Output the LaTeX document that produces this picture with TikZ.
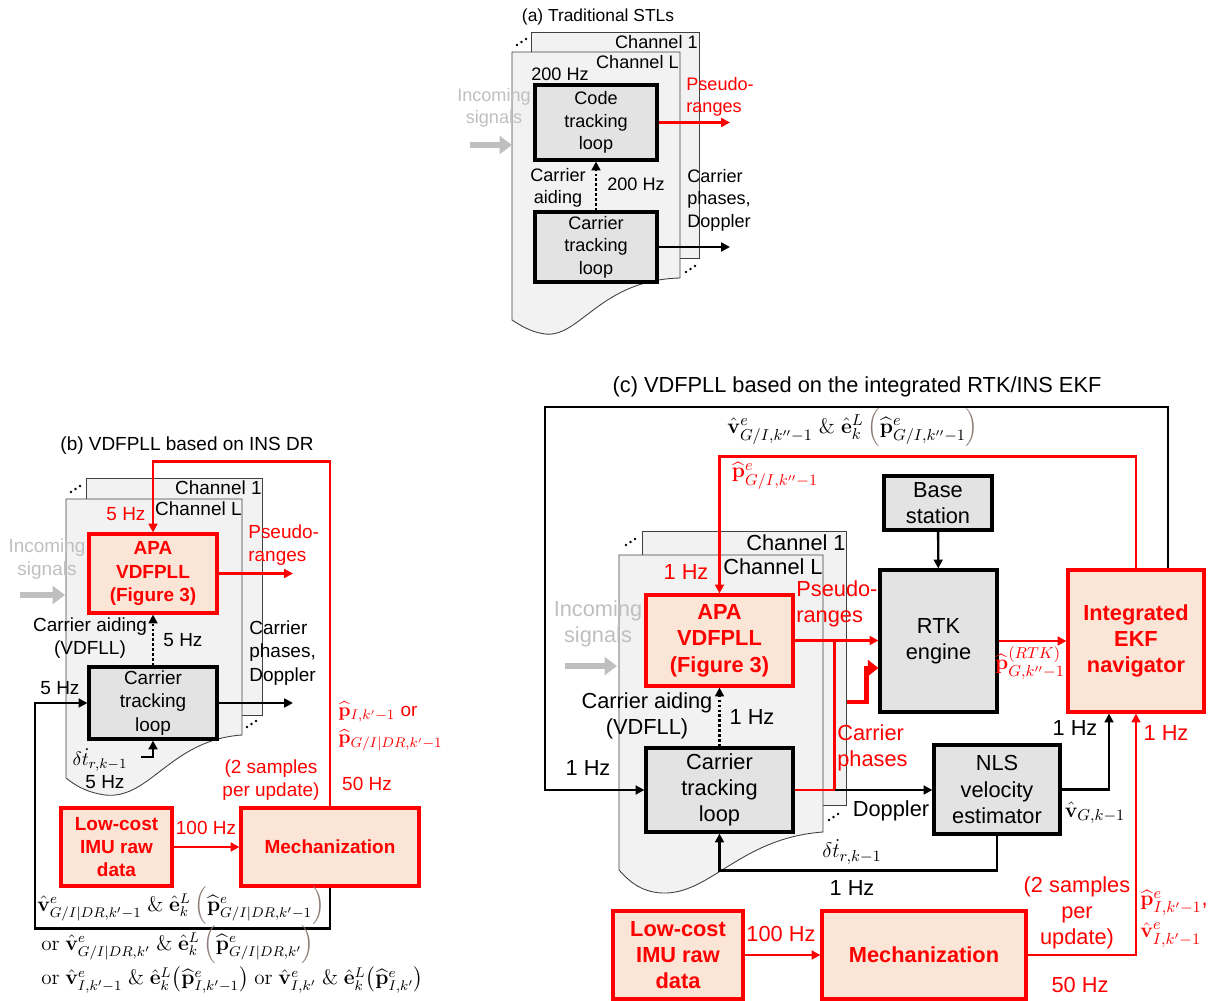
\documentclass[tikz,border=0pt]{standalone}
\usepackage[no-math]{fontspec}
\setmainfont{Liberation Sans}
\usepackage{amsmath}
\usetikzlibrary{arrows.meta,calc}

\definecolor{boxgray}{HTML}{E3E3E3}
\definecolor{pagegray}{HTML}{F2F2F2}
\definecolor{peach}{HTML}{FBE5D6}
\definecolor{sigray}{HTML}{BFBFBF}
\definecolor{pred}{HTML}{FF0000}
\definecolor{parbrown}{HTML}{8C7B75}

\newcommand\pfont{\fontsize{10.3}{12.8}\selectfont}

\tikzset{
  blk/.style={draw, line width=1.8pt, fill=boxgray, align=center, font=\pfont, inner sep=0pt},
  redblk/.style={blk, draw=pred, fill=peach, text=pred, font=\pfont\bfseries},
  sz/.style 2 args={minimum width=#1*0.02cm, minimum height=#2*0.02cm},
  txt/.style={font=\pfont, inner sep=0pt, align=center},
  redtxt/.style={txt, text=pred},
  graytxt/.style={txt, text=sigray},
  mathtxt/.style={txt, font=\fontsize{11.6}{14}\selectfont},
  conn/.style={line width=1.3pt, -{Triangle[length=5pt,width=5pt]}},
  redconn/.style={conn, draw=pred},
  redline/.style={line width=1.3pt, draw=pred},
  thickred/.style={line width=2.8pt, draw=pred, -{Triangle[length=6pt,width=9pt]}},
  aidconn/.style={conn, dash pattern=on 1.4pt off 1.4pt, line width=1.4pt},
  page/.style={fill=pagegray, draw=black!75, line width=0.5pt},
  sigarr/.style={draw=sigray, line width=3.4pt, -{Triangle[length=7pt,width=10pt]}},
}

\begin{document}
\begin{tikzpicture}[x=0.02cm,y=-0.02cm]
\useasboundingbox (0,0) rectangle (1218,1001);

% (a) traditional loops
\begin{scope}
  \def\pfont{\fontsize{10.3}{12.8}\selectfont}
  \node[txt, font=\fontsize{9.9}{12}\selectfont] (titA) at (598,17) {(a) Traditional STLs};
  \filldraw[page] (531,32) rectangle (699,258);
  \filldraw[page] (512,52) -- (680,52) -- (680,278) .. controls (600,280) and (580,338) .. (545,334)
    .. controls (530,332) and (520,325) .. (512,320) -- cycle;
  \foreach \i in {0,1,2}{
    \fill (517+4.5*\i,45-3*\i) circle [radius=0.8pt];
    \fill (686+4.5*\i,272-3*\i) circle [radius=0.8pt];
  }
  \node[txt, anchor=east] (ch1A) at (698,42) {Channel 1};
  \node[txt, anchor=east] (chLA) at (679,62) {Channel L};
  \node[txt] (hzA1) at (560,74) {200 Hz};
  \node[blk, sz={122}{75}] (codeA) at (596,122.5) {Code\\tracking\\loop};
  \node[blk, sz={122}{70}] (carA) at (596,247) {Carrier\\tracking\\loop};
  \node[graytxt] (incA) at (494,108) {Incoming\\signals};
  \coordinate (sigA0) at (470,145);
  \coordinate (sigA1) at (512,145);
  \draw[sigarr] (sigA0) -- (sigA1);
  \coordinate (prA) at (730,122.5);
  \draw[redconn] (codeA.east) -- (prA);
  \node[redtxt, anchor=west, align=left] (prlA) at (686,97) {Pseudo-\\ranges};
  \coordinate (cpA) at (730,247);
  \draw[conn] (carA.east) -- (cpA);
  \node[txt, anchor=west, align=left] (cplA) at (687,200) {Carrier\\phases,\\Doppler};
  \draw[aidconn] (carA.north) -- (codeA.south);
  \node[txt] (aidA) at (558,188) {Carrier\\aiding};
  \node[txt] (hzA2) at (636,184) {200 Hz};
\end{scope}

% (b) INS DR
\begin{scope}
  \def\pfont{\fontsize{10.8}{13.3}\selectfont}
  \node[txt] (titB) at (187,446) {(b) VDFPLL based on INS DR};
  \filldraw[page] (86,478) rectangle (262,715);
  \filldraw[page] (66,499) -- (242,499) -- (242,735) .. controls (170,740) and (150,800) .. (105,795)
    .. controls (85,792) and (75,785) .. (66,778) -- cycle;
  \foreach \i in {0,1,2}{
    \fill (71+4.5*\i,492-3*\i) circle [radius=0.8pt];
    \fill (247+4.5*\i,727-3*\i) circle [radius=0.8pt];
  }
  \node[txt, anchor=east] (ch1B) at (262,488) {Channel 1};
  \node[txt, anchor=east] (chLB) at (242,509) {Channel L};
  \node[redtxt] (hzB1) at (126,514) {5 Hz};
  \node[redblk, sz={128}{79}] (apaB) at (153,573.5) {APA\\VDFPLL\\(Figure 3)};
  \node[blk, sz={128}{72}] (carB) at (153,703) {Carrier\\tracking\\loop};
  \node[redblk, sz={111}{78}] (imuB) at (116.5,847) {Low-cost\\IMU raw\\data};
  \node[redblk, sz={178}{78}] (mechB) at (330,847) {Mechanization};
  \node[graytxt] (incB) at (47,559) {Incoming\\signals};
  \coordinate (sigB0) at (20,595);
  \coordinate (sigB1) at (65,595);
  \draw[sigarr] (sigB0) -- (sigB1);
  \coordinate (prB) at (293,573.5);
  \draw[redconn] (apaB.east) -- (prB);
  \node[redtxt, anchor=west, align=left] (prlB) at (248,545) {Pseudo-\\ranges};
  \coordinate (cpB) at (293,703);
  \draw[conn] (carB.east) -- (cpB);
  \node[txt, anchor=west, align=left] (cplB) at (249,653) {Carrier\\phases,\\Doppler};
  \draw[aidconn] (carB.north) -- (apaB.south);
  \node[txt] (hzB2) at (183,640) {5 Hz};
  \node[txt] (aidB) at (90,638) {Carrier aiding\\(VDFLL)};
  \draw[redconn] (mechB.north) -- ++(0,-345) -| (apaB.north);
  \draw[conn] (mechB.south) -- ++(0,41) -| (35,703) -- (carB.west);
  \node[txt] (hzB3) at (60,688) {5 Hz};
  \coordinate (dtB) at (141,757);
  \draw[conn] (dtB) -| (carB.south);
  \node[txt] (dtlB) at (100,760) {$\delta\dot t_{r,k-1}$};
  \node[txt] (hzB4) at (105,782) {5 Hz};
  \draw[redconn] (imuB.east) -- (mechB.west);
  \node[redtxt] (hzB5) at (206,828) {100 Hz};
  \node[redtxt] (smpB) at (271,780) {(2 samples\\per update)};
  \node[redtxt] (hzB6) at (367,784) {50 Hz};
  \node[redtxt, anchor=west] (posB1) at (338,712) {$\widehat{\mathbf p}_{I,k'-1}$ or};
  \node[redtxt, anchor=west] (posB2) at (338,740) {$\widehat{\mathbf p}_{G/I|DR,k'-1}$};
  \node[mathtxt, anchor=west] (fbB1) at (37,906) {$\hat{\mathbf v}^e_{G/I|DR,k'-1}\ \&\ \hat{\mathbf e}^L_k\,\textcolor{parbrown}{\Bigl(}\widehat{\mathbf p}^e_{G/I|DR,k'-1}\textcolor{parbrown}{\Bigr)}$};
  \node[mathtxt, anchor=west] (fbB2) at (41,945) {$\mathrm{or}\ \hat{\mathbf v}^e_{G/I|DR,k'}\ \&\ \hat{\mathbf e}^L_k\,\textcolor{parbrown}{\Bigl(}\widehat{\mathbf p}^e_{G/I|DR,k'}\textcolor{parbrown}{\Bigr)}$};
  \node[mathtxt, anchor=west] (fbB3) at (41,980) {$\mathrm{or}\ \hat{\mathbf v}^e_{I,k'-1}\ \&\ \hat{\mathbf e}^L_k\bigl(\widehat{\mathbf p}^e_{I,k'-1}\bigr)\ \mathrm{or}\ \hat{\mathbf v}^e_{I,k'}\ \&\ \hat{\mathbf e}^L_k\bigl(\widehat{\mathbf p}^e_{I,k'}\bigr)$};
\end{scope}

% (c) RTK/INS EKF
\begin{scope}
  \def\pfont{\fontsize{12.4}{15}\selectfont}
  \node[txt] (titC) at (857,387) {(c) VDFPLL based on the integrated RTK/INS EKF};
  \filldraw[page] (642,531) rectangle (846,805);
  \filldraw[page] (619,555) -- (823,555) -- (823,832) .. controls (740,838) and (710,895) .. (662,893)
    .. controls (640,892) and (628,880) .. (619,870) -- cycle;
  \foreach \i in {0,1,2}{
    \fill (626+4.5*\i,545-3*\i) circle [radius=0.8pt];
    \fill (829+4.5*\i,820-3*\i) circle [radius=0.8pt];
  }
  \node[txt, anchor=east] (ch1C) at (846,543) {Channel 1};
  \node[txt, anchor=east] (chLC) at (823,567) {Channel L};
  \node[redtxt] (hzC1) at (686,572) {1 Hz};
  \node[redblk, sz={147}{91}] (apaC) at (719.5,640.5) {APA\\VDFPLL\\(Figure 3)};
  \node[blk, sz={147}{84}] (carC) at (719.5,790) {Carrier\\tracking\\loop};
  \node[blk, sz={108}{54}] (baseC) at (938,503) {Base\\station};
  \node[blk, sz={117}{142}] (rtkC) at (938.5,641) {RTK\\engine};
  \node[redblk, sz={136}{142}] (ekfC) at (1136,641) {Integrated\\EKF\\navigator};
  \node[blk, sz={126}{89}] (nlsC) at (997,789.5) {NLS\\velocity\\estimator};
  \node[redblk, sz={130}{88}] (imuC) at (678,955) {Low-cost\\IMU raw\\data};
  \node[redblk, sz={204}{88}] (mechC) at (924,955) {Mechanization};
  \node[graytxt] (incC) at (598,624) {Incoming\\signals};
  \coordinate (sigC0) at (565,666);
  \coordinate (sigC1) at (617,666);
  \draw[sigarr] (sigC0) -- (sigC1);
  \draw[conn] ($(ekfC.north)+(32,0)$) |- (545,407) |- (carC.west);
  \node[txt] (hzC2) at (588,768) {1 Hz};
  \node[txt] (fbC1) at (853,428) {$\hat{\mathbf v}^e_{G/I,k''-1}\ \&\ \hat{\mathbf e}^L_k\,\textcolor{parbrown}{\Bigl(}\widehat{\mathbf p}^e_{G/I,k''-1}\textcolor{parbrown}{\Bigr)}$};
  \draw[redconn] (ekfC.north) -- ++(0,-112) -| (apaC.north);
  \node[redtxt] (fbC2) at (775,476) {$\widehat{\mathbf p}^e_{G/I,k''-1}$};
  \draw[conn] (baseC) -- (rtkC);
  \draw[redconn] (apaC.east) -- (rtkC.west |- apaC.east);
  \node[redtxt, anchor=west, align=left] (prlC) at (796,604) {Pseudo-\\ranges};
  \draw[redline] (carC.east) -| ($(apaC.east)+(40,0)$);
  \draw[conn] ($(carC.east)+(40,0)$) -- (nlsC.west |- carC.east);
  \coordinate (cpC) at (847,702);
  \draw[thickred] (cpC) -| ($(rtkC.west)+(-12,27)$) -- ($(rtkC.west)+(0,27)$);
  \node[redtxt, anchor=west, align=left] (cplC) at (837,748) {Carrier\\phases};
  \node[txt] (dopC) at (891,811) {Doppler};
  \draw[redconn] (rtkC.east) -- (ekfC.west);
  \node[redtxt] (rtklC) at (1030,663) {$\widehat{\mathbf p}^{(RTK)}_{G,k''-1}$};
  \draw[conn] (nlsC.east) -| ($(ekfC.south)+(-27,0)$);
  \node[txt] (hzC3) at (1075,728) {1 Hz};
  \node[txt] (vlC) at (1095,813) {$\hat{\mathbf v}_{G,k-1}$};
  \draw[conn] (nlsC.south) -- ++(0,35) -| (carC.south);
  \node[txt] (dtlC) at (852,852) {$\delta\dot t_{r,k-1}$};
  \node[txt] (hzC4) at (852,888) {1 Hz};
  \draw[aidconn] (carC.north) -- (apaC.south);
  \node[txt] (hzC5) at (752,717) {1 Hz};
  \node[txt] (aidC) at (647,716) {Carrier aiding\\(VDFLL)};
  \draw[redconn] (imuC.east) -- (mechC.west);
  \node[redtxt] (hzC6) at (781,934) {100 Hz};
  \draw[redconn] (mechC.east) -| (ekfC.south);
  \node[redtxt] (hzC7) at (1166,733) {1 Hz};
  \node[redtxt] (smpC) at (1077,913) {(2 samples\\per\\update)};
  \node[redtxt] (hzC8) at (1080,985) {50 Hz};
  \node[redtxt, anchor=west] (posC1) at (1140,903) {$\widehat{\mathbf p}^e_{I,k'-1}$,};
  \node[redtxt, anchor=west] (posC2) at (1140,935) {$\hat{\mathbf v}^e_{I,k'-1}$};
\end{scope}
\end{tikzpicture}
\end{document}
